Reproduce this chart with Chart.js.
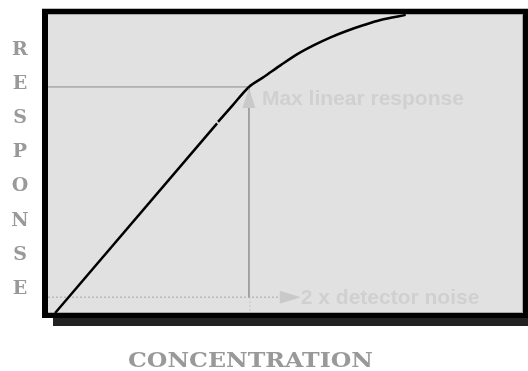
<!DOCTYPE html>
<html>
<head>
<meta charset="utf-8">
<script src="https://cdn.jsdelivr.net/npm/chart.js@4/dist/chart.umd.min.js"></script>
<style>
  html, body { margin: 0; padding: 0; background: #fff; }
  #wrap { width: 528px; height: 371px; }
</style>
</head>
<body>
<div id="wrap"><canvas id="c" width="528" height="371"></canvas></div>
<script>
// Calibration curve: straight linear range, then the bending saturation range.
const linearConc = [1.5, 35.6];
const linearResp = [0, 63.4];
const curveConc = [35.8, 38.95, 42.3, 45.5, 49.0, 52.4, 56.0, 59.5, 63.0, 66.5, 70.0, 75.3];
const curveResp = [63.9, 69.6, 75.6, 79.0, 82.9, 86.5, 89.6, 92.2, 94.4, 96.3, 98.0, 99.7];

// Reference levels.
const maxLinearConc = [42.3];
const maxLinearResp = [75.6];
const noiseResp = [5.3];
const noiseArrowConc = [48.8];

const yTitle = ["R", "E", "S", "P", "O", "N", "S", "E"];
const xTitle = "CONCENTRATION";
const maxLabel = "Max linear response";
const noiseLabel = "2 x detector noise";

const pts = (xs, ys) => xs.map((x, i) => ({ x, y: ys[i] }));

const framePlugin = {
  id: 'frame',
  beforeDraw(chart) {
    const { ctx, chartArea: a, width, height } = chart;
    ctx.save();
    ctx.fillStyle = '#fff';
    ctx.fillRect(0, 0, width, height);
    // drop shadow under the box
    ctx.fillStyle = '#222';
    ctx.fillRect(a.left + 5, a.bottom + 5, width - a.left - 5, 8);
    // thick black frame
    ctx.fillStyle = '#000';
    ctx.fillRect(a.left - 6, a.top - 5, a.right - a.left + 11, a.bottom - a.top + 10);
    ctx.fillStyle = '#bdbdbd';
    ctx.fillRect(a.left - 6, a.top - 6, a.right - a.left + 11, 1);
    // plot interior
    ctx.fillStyle = '#a8a8a8';
    ctx.fillRect(a.left, a.top, a.right - a.left, a.bottom - a.top);
    ctx.fillStyle = '#e1e1e1';
    ctx.fillRect(a.left, a.top + 1, a.right - a.left - 1, a.bottom - a.top - 2);
    ctx.restore();
  },
  afterDatasetsDraw(chart) {
    const { ctx } = chart;
    const xs = chart.scales.x, ys = chart.scales.y;
    const mx = xs.getPixelForValue(maxLinearConc[0]);
    const my = ys.getPixelForValue(maxLinearResp[0]);
    const ny = ys.getPixelForValue(noiseResp[0]);
    const nx = xs.getPixelForValue(noiseArrowConc[0]);
    ctx.save();
    ctx.fillStyle = '#c9c9c9';
    // upward arrow head at the max linear point
    ctx.beginPath();
    ctx.moveTo(mx, my + 1);
    ctx.lineTo(mx - 6.5, my + 21);
    ctx.lineTo(mx + 6.5, my + 21);
    ctx.closePath();
    ctx.fill();
    // arrow head pointing at the noise label
    ctx.beginPath();
    ctx.moveTo(nx, ny - 6.5);
    ctx.lineTo(nx + 21, ny);
    ctx.lineTo(nx, ny + 6.5);
    ctx.closePath();
    ctx.fill();

    ctx.fillStyle = '#d0d0d0';
    ctx.font = 'bold 21px "Liberation Sans", Arial, sans-serif';
    ctx.textBaseline = 'alphabetic';
    ctx.textAlign = 'left';
    ctx.fillText(maxLabel, mx + 13, my + 18);
    ctx.fillText(noiseLabel, nx + 21, ny + 7);
    ctx.restore();
  },
  afterDraw(chart) {
    const { ctx } = chart;
    ctx.save();
    ctx.fillStyle = '#999';
    ctx.font = 'bold 19px "DejaVu Serif", serif';
    ctx.textAlign = 'center';
    ctx.textBaseline = 'alphabetic';
    yTitle.forEach((ch, i) => ctx.fillText(ch, 20, 55 + i * 34.1));
    // x title, set in a wide bold serif
    ctx.font = 'bold 21px "DejaVu Serif", serif';
    const w = ctx.measureText(xTitle).width;
    const sx = 245 / w;
    ctx.translate(250.5, 367);
    ctx.scale(sx, 1);
    ctx.fillText(xTitle, 0, 0);
    ctx.restore();
  }
};

new Chart(document.getElementById('c'), {
  type: 'scatter',
  data: {
    datasets: [
      {
        label: 'linear',
        data: pts(linearConc, linearResp),
        showLine: true, borderColor: '#000', borderWidth: 2.5,
        pointRadius: 0, order: 0, clip: false
      },
      {
        label: 'curve',
        data: pts(curveConc, curveResp),
        showLine: true, borderColor: '#000', borderWidth: 2.5,
        pointRadius: 0, tension: 0.3, order: 0, clip: false
      },
      {
        label: 'max level',
        data: [{ x: 0, y: maxLinearResp[0] }, { x: maxLinearConc[0], y: maxLinearResp[0] }],
        showLine: true, borderColor: '#8a8a8a', borderWidth: 1,
        pointRadius: 0, order: 2
      },
      {
        label: 'max drop',
        data: [{ x: maxLinearConc[0], y: maxLinearResp[0] }, { x: maxLinearConc[0], y: noiseResp[0] }],
        showLine: true, borderColor: '#9a9a9a', borderWidth: 1,
        pointRadius: 0, order: 2
      },
      {
        label: 'noise level',
        data: [{ x: 0, y: noiseResp[0] }, { x: noiseArrowConc[0], y: noiseResp[0] }],
        showLine: true, borderColor: '#a5a5a5', borderWidth: 1, borderDash: [2, 2],
        pointRadius: 0, order: 2
      },
      {
        label: 'noise drop',
        data: [{ x: maxLinearConc[0] + 0.2, y: noiseResp[0] }, { x: maxLinearConc[0] + 0.2, y: 0 }],
        showLine: true, borderColor: '#c4c4c4', borderWidth: 1, borderDash: [2, 2],
        pointRadius: 0, order: 2
      }
    ]
  },
  options: {
    responsive: false,
    animation: false,
    layout: { padding: { left: 48, top: 14, right: 5, bottom: 58 } },
    scales: {
      x: { type: 'linear', min: 0, max: 100, display: false },
      y: { type: 'linear', min: 0, max: 100, display: false }
    },
    plugins: { legend: { display: false }, tooltip: { enabled: false } }
  },
  plugins: [framePlugin]
});
</script>
</body>
</html>
